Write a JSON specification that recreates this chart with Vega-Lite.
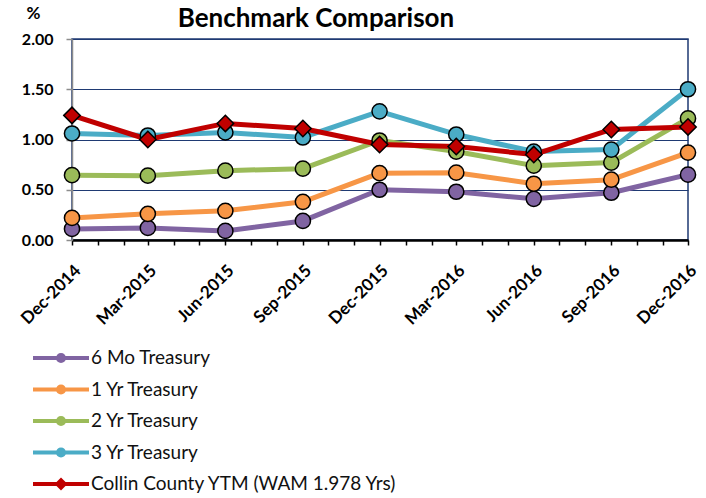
{
  "$schema": "https://vega.github.io/schema/vega-lite/v6.json",
  "width": 616,
  "height": 201,
  "autosize": {"type": "none"},
  "padding": {"left": 72, "top": 39, "right": 18, "bottom": 258},
  "background": "white",
  "title": {"text": "Benchmark Comparison", "anchor": "start", "dx": 160, "offset": -28, "font": "Lato", "fontSize": 26, "fontWeight": "bold", "color": "#000000"},
  "config": {
    "view": {"stroke": "#1F3A73", "strokeWidth": 1.5},
    "font": "Lato"
  },
  "data": {
    "values": [
      {"date": "2014-12-01", "series": "6 Mo Treasury", "value": 0.11},
      {"date": "2015-03-01", "series": "6 Mo Treasury", "value": 0.12},
      {"date": "2015-06-01", "series": "6 Mo Treasury", "value": 0.09},
      {"date": "2015-09-01", "series": "6 Mo Treasury", "value": 0.19},
      {"date": "2015-12-01", "series": "6 Mo Treasury", "value": 0.50},
      {"date": "2016-03-01", "series": "6 Mo Treasury", "value": 0.48},
      {"date": "2016-06-01", "series": "6 Mo Treasury", "value": 0.41},
      {"date": "2016-09-01", "series": "6 Mo Treasury", "value": 0.47},
      {"date": "2016-12-01", "series": "6 Mo Treasury", "value": 0.65},
      {"date": "2014-12-01", "series": "1 Yr Treasury", "value": 0.22},
      {"date": "2015-03-01", "series": "1 Yr Treasury", "value": 0.26},
      {"date": "2015-06-01", "series": "1 Yr Treasury", "value": 0.29},
      {"date": "2015-09-01", "series": "1 Yr Treasury", "value": 0.38},
      {"date": "2015-12-01", "series": "1 Yr Treasury", "value": 0.665},
      {"date": "2016-03-01", "series": "1 Yr Treasury", "value": 0.67},
      {"date": "2016-06-01", "series": "1 Yr Treasury", "value": 0.56},
      {"date": "2016-09-01", "series": "1 Yr Treasury", "value": 0.60},
      {"date": "2016-12-01", "series": "1 Yr Treasury", "value": 0.87},
      {"date": "2014-12-01", "series": "2 Yr Treasury", "value": 0.645},
      {"date": "2015-03-01", "series": "2 Yr Treasury", "value": 0.64},
      {"date": "2015-06-01", "series": "2 Yr Treasury", "value": 0.69},
      {"date": "2015-09-01", "series": "2 Yr Treasury", "value": 0.71},
      {"date": "2015-12-01", "series": "2 Yr Treasury", "value": 0.99},
      {"date": "2016-03-01", "series": "2 Yr Treasury", "value": 0.88},
      {"date": "2016-06-01", "series": "2 Yr Treasury", "value": 0.74},
      {"date": "2016-09-01", "series": "2 Yr Treasury", "value": 0.77},
      {"date": "2016-12-01", "series": "2 Yr Treasury", "value": 1.21},
      {"date": "2014-12-01", "series": "3 Yr Treasury", "value": 1.06},
      {"date": "2015-03-01", "series": "3 Yr Treasury", "value": 1.04},
      {"date": "2015-06-01", "series": "3 Yr Treasury", "value": 1.07},
      {"date": "2015-09-01", "series": "3 Yr Treasury", "value": 1.02},
      {"date": "2015-12-01", "series": "3 Yr Treasury", "value": 1.28},
      {"date": "2016-03-01", "series": "3 Yr Treasury", "value": 1.05},
      {"date": "2016-06-01", "series": "3 Yr Treasury", "value": 0.88},
      {"date": "2016-09-01", "series": "3 Yr Treasury", "value": 0.90},
      {"date": "2016-12-01", "series": "3 Yr Treasury", "value": 1.50},
      {"date": "2014-12-01", "series": "Collin County YTM (WAM 1.978 Yrs)", "value": 1.24},
      {"date": "2015-03-01", "series": "Collin County YTM (WAM 1.978 Yrs)", "value": 1.00},
      {"date": "2015-06-01", "series": "Collin County YTM (WAM 1.978 Yrs)", "value": 1.16},
      {"date": "2015-09-01", "series": "Collin County YTM (WAM 1.978 Yrs)", "value": 1.11},
      {"date": "2015-12-01", "series": "Collin County YTM (WAM 1.978 Yrs)", "value": 0.95},
      {"date": "2016-03-01", "series": "Collin County YTM (WAM 1.978 Yrs)", "value": 0.93},
      {"date": "2016-06-01", "series": "Collin County YTM (WAM 1.978 Yrs)", "value": 0.85},
      {"date": "2016-09-01", "series": "Collin County YTM (WAM 1.978 Yrs)", "value": 1.10},
      {"date": "2016-12-01", "series": "Collin County YTM (WAM 1.978 Yrs)", "value": 1.125}
    ]
  },
  "encoding": {
    "x": {
      "field": "date", "type": "temporal",
      "scale": {"type": "utc", "domain": [{"year": 2014, "month": 12, "date": 1, "utc": true}, {"year": 2016, "month": 12, "date": 1, "utc": true}]},
      "axis": {
        "title": null,
        "tickCount": {"interval": "month", "step": 1},
        "labelExpr": "(utcmonth(datum.value) % 3 == 2) ? utcFormat(datum.value, '%b-%Y') : ''",
        "labelAngle": -45,
        "labelFont": "Lato", "labelFontSize": 17, "labelFontWeight": "bold", "labelColor": "#000000",
        "labelPadding": 17, "labelOverlap": false, "labelFlush": false,
        "domainColor": "#000000", "domainWidth": 2.5,
        "tickColor": "#000000", "tickWidth": 1.5, "tickSize": 5,
        "grid": false
      }
    },
    "y": {
      "field": "value", "type": "quantitative",
      "scale": {"domain": [0, 2], "nice": false, "zero": true},
      "axis": {
        "values": [0, 0.5, 1, 1.5, 2],
        "format": ".2f",
        "title": "%", "titleAngle": 0, "titleX": -39, "titleY": -26, "titleAlign": "center", "titleBaseline": "middle",
        "titleFont": "Lato", "titleFontSize": 17, "titleFontWeight": "bold", "titleColor": "#000000",
        "labelFont": "Lato", "labelFontSize": 16, "labelFontWeight": "bold", "labelColor": "#000000", "labelPadding": 13,
        "grid": true, "gridColor": "#1F3A73", "gridWidth": 1,
        "domainColor": "#8C8C8C", "domainWidth": 1.5,
        "tickColor": "#8C8C8C", "tickSize": 6, "tickWidth": 1.5
      }
    }
  },
  "layer": [
    {
      "mark": {"type": "line", "strokeWidth": 5, "strokeJoin": "round"},
      "encoding": {
        "color": {
          "field": "series", "type": "nominal",
          "scale": {
            "domain": ["6 Mo Treasury", "1 Yr Treasury", "2 Yr Treasury", "3 Yr Treasury", "Collin County YTM (WAM 1.978 Yrs)"],
            "range": ["#8064A2", "#F79646", "#9BBB59", "#4BACC6", "#C00000"]
          },
          "legend": {
            "orient": "none", "legendX": -41, "legendY": 310, "direction": "vertical",
            "title": null,
            "labelFont": "Lato", "labelFontSize": 19, "labelColor": "#111111", "labelOffset": 0, "labelLimit": 420,
            "rowPadding": 12.5,
            "clipHeight": 18,
            "symbolSize": 3136,
            "symbolStrokeWidth": 4,
            "symbolType": "M-1,0H1M0.11,0A0.11,0.11,0,1,1,-0.11,0A0.11,0.11,0,1,1,0.11,0",
            "encode": {
              "symbols": {
                "update": {
                  "shape": {"signal": "datum.value == 'Collin County YTM (WAM 1.978 Yrs)' ? 'M-1,0H1M0.13,0L0,-0.13L-0.13,0L0,0.13Z' : 'M-1,0H1M0.11,0A0.11,0.11,0,1,1,-0.11,0A0.11,0.11,0,1,1,0.11,0'"},
                  "fill": {"scale": "color", "field": "value"},
                  "stroke": {"scale": "color", "field": "value"},
                  "strokeWidth": {"value": 4},
                  "size": {"value": 3136},
                  "opacity": {"value": 1}
                }
              }
            }
          }
        }
      }
    },
    {
      "transform": [{"filter": "datum.series != 'Collin County YTM (WAM 1.978 Yrs)'"}],
      "mark": {"type": "point", "shape": "circle", "filled": true, "opacity": 1, "size": 230, "stroke": "#000000", "strokeWidth": 1.5},
      "encoding": {
        "fill": {
          "field": "series", "type": "nominal",
          "scale": {
            "domain": ["6 Mo Treasury", "1 Yr Treasury", "2 Yr Treasury", "3 Yr Treasury", "Collin County YTM (WAM 1.978 Yrs)"],
            "range": ["#8064A2", "#F79646", "#9BBB59", "#4BACC6", "#C00000"]
          },
          "legend": null
        }
      }
    },
    {
      "transform": [{"filter": "datum.series == 'Collin County YTM (WAM 1.978 Yrs)'"}],
      "mark": {"type": "point", "shape": "diamond", "filled": true, "opacity": 1, "size": 270, "stroke": "#000000", "strokeWidth": 1.5},
      "encoding": {
        "fill": {
          "field": "series", "type": "nominal",
          "legend": null
        }
      }
    }
  ]
}
